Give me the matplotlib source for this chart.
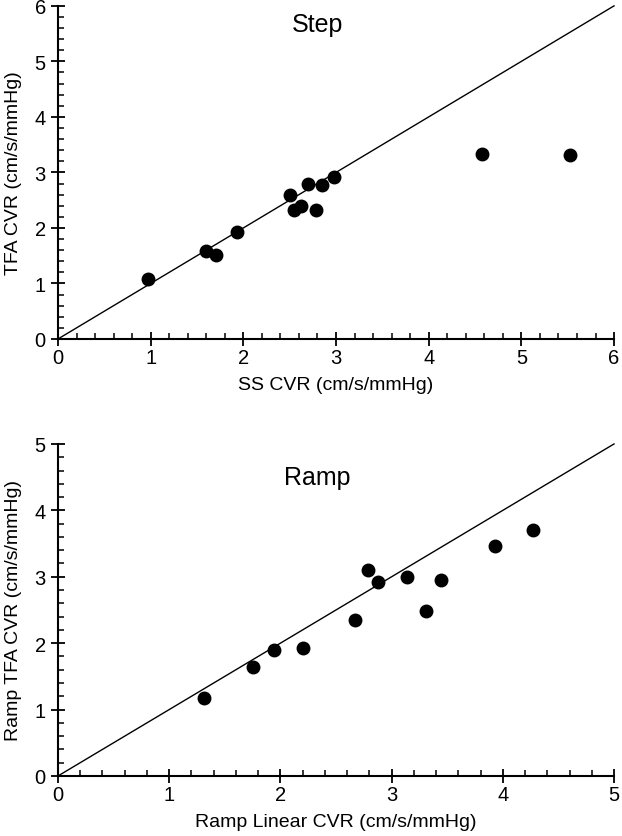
import matplotlib
matplotlib.use("Agg")
import matplotlib.pyplot as plt
from matplotlib.ticker import MultipleLocator

plt.rcParams["font.family"] = ["Liberation Sans", "DejaVu Sans"]

# Step panel
step_ss = [0.97, 1.60, 1.71, 1.93, 2.50, 2.55, 2.62, 2.70, 2.78, 2.85, 2.98, 4.58, 5.52]
step_tfa = [1.08, 1.59, 1.51, 1.93, 2.59, 2.33, 2.40, 2.79, 2.32, 2.78, 2.92, 3.33, 3.31]

# Ramp panel
ramp_lin = [1.31, 1.75, 1.94, 2.20, 2.67, 2.79, 2.88, 3.14, 3.31, 3.44, 3.93, 4.27]
ramp_tfa = [1.17, 1.64, 1.89, 1.92, 2.35, 3.10, 2.92, 3.00, 2.48, 2.95, 3.46, 3.70]


def style_axes(ax, lim, title, tx, ty, xlabel, ylabel):
    ax.set_xlim(0, lim)
    ax.set_ylim(0, lim)
    ax.plot([0, lim], [0, lim], color="black", linewidth=1.0, clip_on=False)
    for side in ("top", "right"):
        ax.spines[side].set_visible(False)
    for side in ("left", "bottom"):
        ax.spines[side].set_linewidth(1.5)
    ax.xaxis.set_major_locator(MultipleLocator(1))
    ax.yaxis.set_major_locator(MultipleLocator(1))
    ax.xaxis.set_minor_locator(MultipleLocator(0.2))
    ax.yaxis.set_minor_locator(MultipleLocator(0.2))
    ax.tick_params(which="major", direction="inout", length=9.5, width=1.3,
                   labelsize=14.5, pad=2)
    ax.tick_params(axis="y", which="major", pad=4)
    ax.tick_params(which="minor", direction="in", length=4.3, width=1.1)
    ax.set_xlabel(xlabel, fontsize=14, labelpad=6)
    ax.set_ylabel(ylabel, fontsize=14, labelpad=9)
    ax.text(tx, ty, title, transform=ax.transAxes, fontsize=18,
            ha="center", va="center")


fig = plt.figure(figsize=(6.22, 8.37), dpi=100)

ax1 = fig.add_axes([0.0932, 0.5938, 0.894, 0.398])
ax1.plot(step_ss, step_tfa, "o", color="black", markersize=9, clip_on=False)
style_axes(ax1, 6, "Step", 0.467, 0.945,
           "SS CVR (cm/s/mmHg)", "TFA CVR (cm/s/mmHg)")

ax2 = fig.add_axes([0.0932, 0.0717, 0.894, 0.3967])
ax2.plot(ramp_lin, ramp_tfa, "o", color="black", markersize=9, clip_on=False)
style_axes(ax2, 5, "Ramp", 0.467, 0.90,
           "Ramp Linear CVR (cm/s/mmHg)", "Ramp TFA CVR (cm/s/mmHg)")

fig.savefig("out.png", dpi=100)
